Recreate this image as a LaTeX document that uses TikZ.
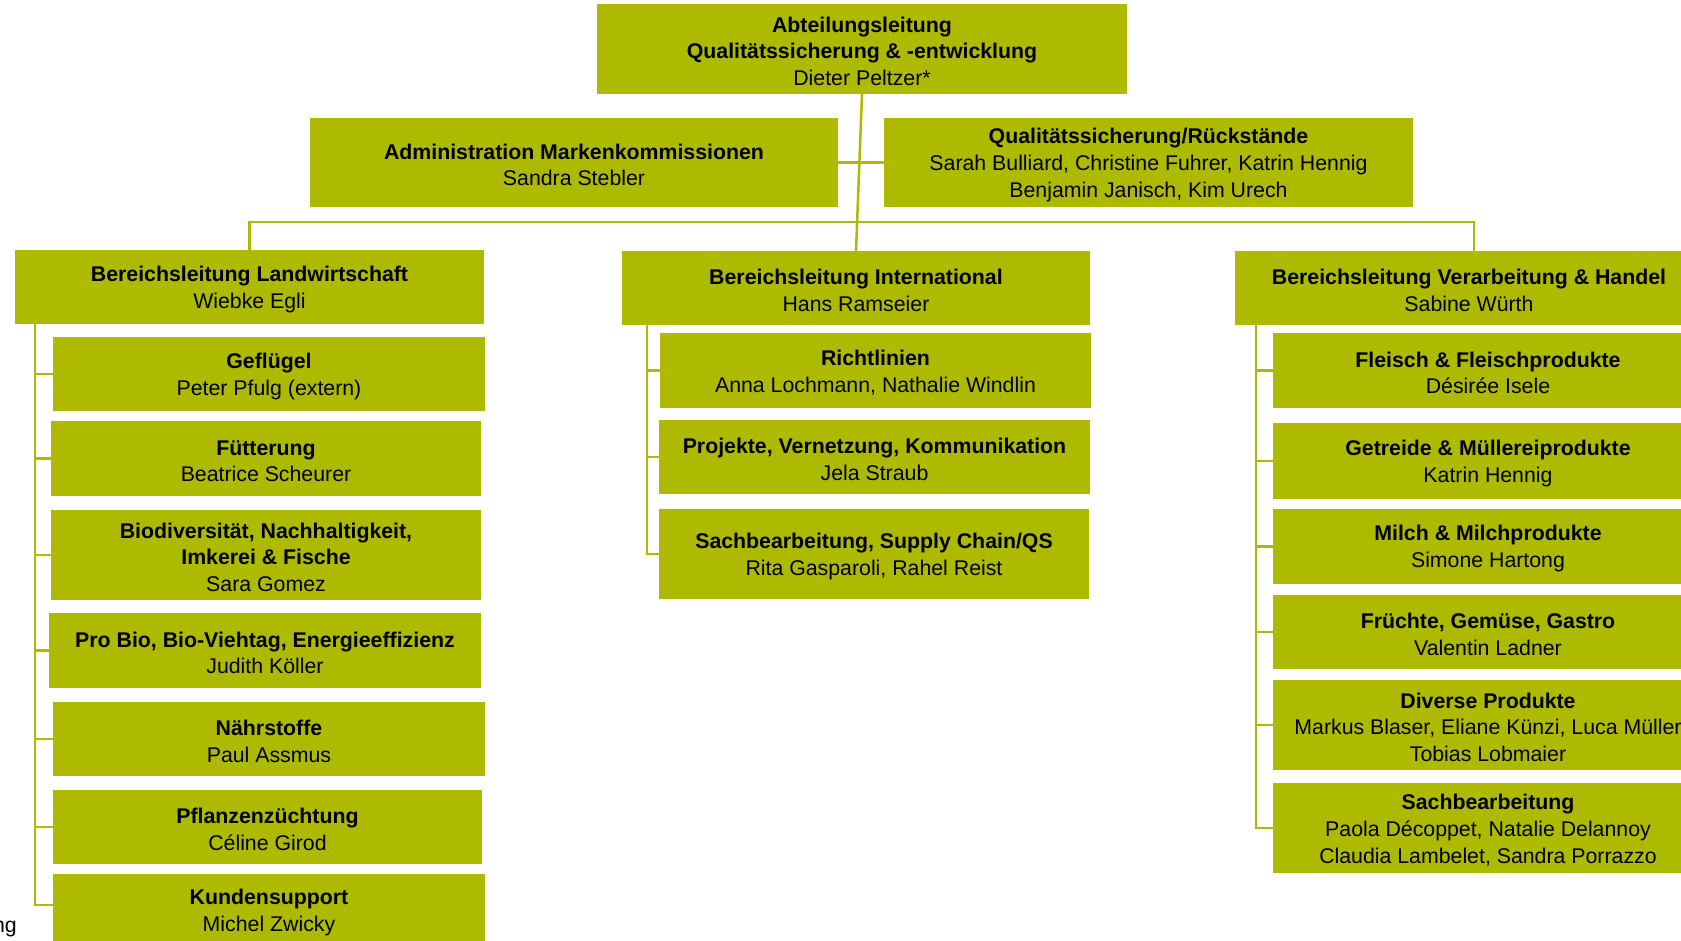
\documentclass[tikz,border=0pt]{standalone}
\usepackage{fontspec}
\setmainfont{Liberation Sans}
\definecolor{bsgreen}{RGB}{173,186,0}
\newcommand\boxhead[1]{\rule{0pt}{20pt}\textbf{#1}}
\begin{document}
\begin{tikzpicture}[x=1pt,y=-1pt,
  box/.style={draw=none, fill=bsgreen, inner sep=0pt, align=center,
    font=\fontsize{21.3}{26.8}\selectfont, text=black},
  conn/.style={draw=bsgreen, line width=2.5pt}]
\useasboundingbox (0,0) rectangle (1681,940);
\clip (0,0) rectangle (1681,940);
% top level
\node[box, minimum width=530pt, minimum height=90pt] (top) at (862,49)
  {\boxhead{Abteilungsleitung}\\\textbf{Qualitätssicherung \& -entwicklung}\\Dieter Peltzer*};
\node[box, minimum width=528pt, minimum height=89pt] (adm) at (574,162.5)
  {\boxhead{Administration Markenkommissionen}\\Sandra Stebler};
\node[box, minimum width=529pt, minimum height=89pt] (qs) at (1148.5,162.5)
  {\boxhead{Qualitätssicherung/Rückstände}\\Sarah Bulliard, Christine Fuhrer, Katrin Hennig\\Benjamin Janisch, Kim Urech};
% area heads
\node[box, minimum width=469pt, minimum height=74pt] (lw) at (249.5,287)
  {\boxhead{Bereichsleitung Landwirtschaft}\\Wiebke Egli};
\node[box, minimum width=468pt, minimum height=74pt] (intl) at (856,288)
  {\boxhead{Bereichsleitung International}\\Hans Ramseier};
\node[box, minimum width=468pt, minimum height=74pt] (vh) at (1469,288)
  {\boxhead{Bereichsleitung Verarbeitung \& Handel}\\Sabine Würth};
% left column
\node[box, minimum width=432pt, minimum height=74pt] (g1) at (269,374)
  {\boxhead{Geflügel}\\Peter Pfulg (extern)};
\node[box, minimum width=430pt, minimum height=75pt] (g2) at (266,458.5)
  {\boxhead{Fütterung}\\Beatrice Scheurer};
\node[box, minimum width=430pt, minimum height=90pt] (g3) at (266,555)
  {\boxhead{Biodiversität, Nachhaltigkeit,}\\\textbf{Imkerei \& Fische}\\Sara Gomez};
\node[box, minimum width=432pt, minimum height=75pt] (g4) at (265,650.5)
  {\boxhead{Pro Bio, Bio-Viehtag, Energieeffizienz}\\Judith Köller};
\node[box, minimum width=432pt, minimum height=74pt] (g5) at (269,739)
  {\boxhead{Nährstoffe}\\Paul Assmus};
\node[box, minimum width=429pt, minimum height=74pt] (g6) at (267.5,827)
  {\boxhead{Pflanzenzüchtung}\\Céline Girod};
\node[box, minimum width=432pt, minimum height=72pt] (g7) at (269,910)
  {\boxhead{Kundensupport}\\Michel Zwicky};
% middle column
\node[box, minimum width=431pt, minimum height=75pt] (m1) at (875.5,370.5)
  {\boxhead{Richtlinien}\\Anna Lochmann, Nathalie Windlin};
\node[box, minimum width=431pt, minimum height=74pt] (m2) at (874.5,457)
  {\boxhead{Projekte, Vernetzung, Kommunikation}\\Jela Straub};
\node[box, minimum width=430pt, minimum height=90pt] (m3) at (874,554)
  {\boxhead{Sachbearbeitung, Supply Chain/QS}\\Rita Gasparoli, Rahel Reist};
% right column
\node[box, minimum width=430pt, minimum height=75pt] (r1) at (1488,370.5)
  {\boxhead{Fleisch \& Fleischprodukte}\\Désirée Isele};
\node[box, minimum width=430pt, minimum height=76pt] (r2) at (1488,461)
  {\boxhead{Getreide \& Müllereiprodukte}\\Katrin Hennig};
\node[box, minimum width=430pt, minimum height=75pt] (r3) at (1488,546.5)
  {\boxhead{Milch \& Milchprodukte}\\Simone Hartong};
\node[box, minimum width=430pt, minimum height=74pt] (r4) at (1488,632)
  {\boxhead{Früchte, Gemüse, Gastro}\\Valentin Ladner};
\node[box, minimum width=430pt, minimum height=90pt] (r5) at (1488,725)
  {\boxhead{Diverse Produkte}\\Markus Blaser, Eliane Künzi, Luca Müller\\Tobias Lobmaier};
\node[box, minimum width=430pt, minimum height=90pt] (r6) at (1488,828)
  {\boxhead{Sachbearbeitung}\\Paola Décoppet, Natalie Delannoy\\Claudia Lambelet, Sandra Porrazzo};
% cut-off footnote text
\node[anchor=base east, inner sep=0pt, font=\fontsize{21.3}{26.8}\selectfont] (fn) at (17,932) {ng};
% connectors
\coordinate (bus) at (0,222);
\coordinate (sl) at (35,0);
\coordinate (sm) at (647,0);
\coordinate (sr) at (1256,0);
\coordinate (kt) at (0,905);
\draw[conn] (top.south) -- (intl.north);
\draw[conn] (adm.east) -- (qs.west);
\draw[conn] (lw.north) -- (lw.north |- bus) -- ([xshift=5pt]vh.north |- bus) -- ([xshift=5pt]vh.north);
% left spine
\draw[conn] (sl |- lw.south) -- (sl |- kt) -- (g7.west |- kt);
\foreach \n in {g1,g2,g3,g4,g5,g6} \draw[conn] (sl |- \n.west) -- (\n.west);
% middle spine
\draw[conn] (sm |- intl.south) -- (sm |- m3.west) -- (m3.west);
\foreach \n in {m1,m2} \draw[conn] (sm |- \n.west) -- (\n.west);
% right spine
\draw[conn] (sr |- vh.south) -- (sr |- r6.west) -- (r6.west);
\foreach \n in {r1,r2,r3,r4,r5} \draw[conn] (sr |- \n.west) -- (\n.west);
\end{tikzpicture}
\end{document}
